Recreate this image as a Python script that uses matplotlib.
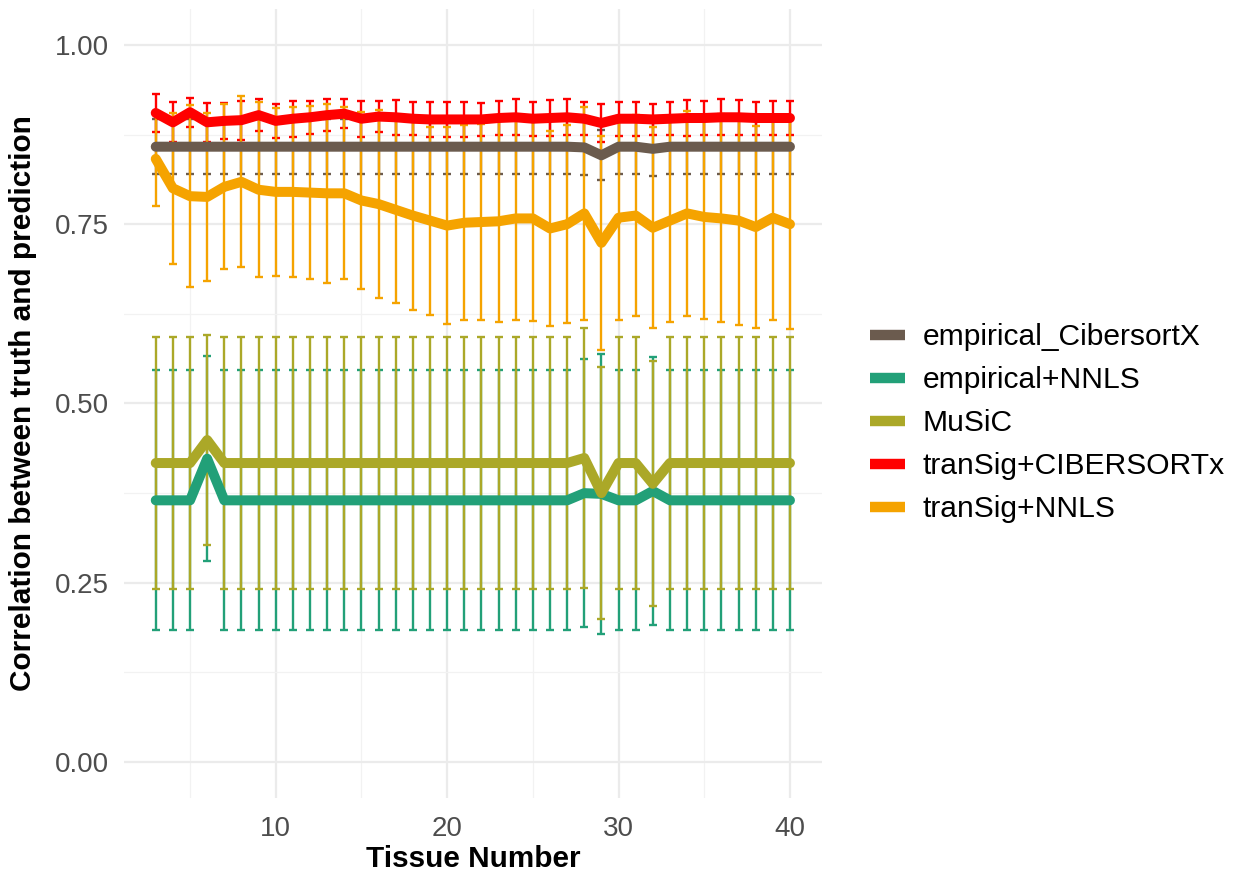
import numpy as np
import matplotlib
matplotlib.use("Agg")
import matplotlib.pyplot as plt
from matplotlib.lines import Line2D

plt.rcParams['font.family'] = ['Liberation Sans', 'DejaVu Sans']

# Tissue numbers on the x axis
tissue = list(range(3, 41))

methods = ["empirical_CibersortX", "empirical+NNLS", "MuSiC", "tranSig+CIBERSORTx", "tranSig+NNLS"]
colours = ["#6B5B4E", "#22A078", "#ABA828", "#FF0000", "#F5A300"]

# mean correlation per tissue number
emp_cbx_mean = [0.858, 0.858, 0.858, 0.858, 0.858, 0.858, 0.858, 0.858, 0.858, 0.858,
                0.858, 0.858, 0.858, 0.858, 0.858, 0.858, 0.858, 0.858, 0.858, 0.858,
                0.858, 0.858, 0.858, 0.858, 0.858, 0.857, 0.846, 0.858, 0.858, 0.855,
                0.858, 0.858, 0.858, 0.858, 0.858, 0.858, 0.858, 0.858]
emp_nnls_mean = [0.365, 0.365, 0.365, 0.423, 0.365, 0.365, 0.365, 0.365, 0.365, 0.365,
                 0.365, 0.365, 0.365, 0.365, 0.365, 0.365, 0.365, 0.365, 0.365, 0.365,
                 0.365, 0.365, 0.365, 0.365, 0.365, 0.375, 0.374, 0.365, 0.365, 0.378,
                 0.365, 0.365, 0.365, 0.365, 0.365, 0.365, 0.365, 0.365]
music_mean = [0.417, 0.417, 0.417, 0.449, 0.417, 0.417, 0.417, 0.417, 0.417, 0.417,
              0.417, 0.417, 0.417, 0.417, 0.417, 0.417, 0.417, 0.417, 0.417, 0.417,
              0.417, 0.417, 0.417, 0.417, 0.417, 0.424, 0.375, 0.417, 0.417, 0.388,
              0.417, 0.417, 0.417, 0.417, 0.417, 0.417, 0.417, 0.417]
ts_cbx_mean = [0.905, 0.892, 0.906, 0.892, 0.894, 0.895, 0.902, 0.894, 0.897, 0.899,
               0.902, 0.904, 0.897, 0.900, 0.899, 0.897, 0.896, 0.896, 0.896, 0.896,
               0.898, 0.899, 0.897, 0.898, 0.899, 0.897, 0.891, 0.897, 0.897, 0.896,
               0.897, 0.898, 0.898, 0.899, 0.899, 0.898, 0.898, 0.898]
ts_nnls_mean = [0.841, 0.800, 0.789, 0.788, 0.802, 0.809, 0.798, 0.795, 0.795, 0.794,
                0.793, 0.793, 0.783, 0.778, 0.770, 0.762, 0.755, 0.748, 0.752, 0.753,
                0.754, 0.758, 0.758, 0.744, 0.750, 0.765, 0.724, 0.759, 0.762, 0.745,
                0.755, 0.765, 0.760, 0.758, 0.755, 0.746, 0.759, 0.750]

# standard deviations (error bar half heights)
emp_cbx_sd = [0.038, 0.038, 0.038, 0.038, 0.038, 0.038, 0.038, 0.038, 0.038, 0.038,
              0.038, 0.038, 0.038, 0.038, 0.038, 0.038, 0.038, 0.038, 0.038, 0.038,
              0.038, 0.038, 0.038, 0.038, 0.038, 0.039, 0.035, 0.038, 0.038, 0.038,
              0.038, 0.038, 0.038, 0.038, 0.038, 0.038, 0.038, 0.038]
emp_nnls_sd = [0.181, 0.181, 0.181, 0.143, 0.181, 0.181, 0.181, 0.181, 0.181, 0.181,
               0.181, 0.181, 0.181, 0.181, 0.181, 0.181, 0.181, 0.181, 0.181, 0.181,
               0.181, 0.181, 0.181, 0.181, 0.181, 0.187, 0.195, 0.181, 0.181, 0.187,
               0.181, 0.181, 0.181, 0.181, 0.181, 0.181, 0.181, 0.181]
music_sd = [0.175, 0.175, 0.175, 0.146, 0.175, 0.175, 0.175, 0.175, 0.175, 0.175,
            0.175, 0.175, 0.175, 0.175, 0.175, 0.175, 0.175, 0.175, 0.175, 0.175,
            0.175, 0.175, 0.175, 0.175, 0.175, 0.181, 0.176, 0.175, 0.175, 0.171,
            0.175, 0.175, 0.175, 0.175, 0.175, 0.175, 0.175, 0.175]
ts_cbx_sd = [0.026, 0.028, 0.020, 0.027, 0.025, 0.027, 0.022, 0.024, 0.025, 0.023,
             0.022, 0.020, 0.025, 0.022, 0.024, 0.023, 0.024, 0.024, 0.024, 0.023,
             0.024, 0.025, 0.024, 0.025, 0.025, 0.023, 0.027, 0.024, 0.024, 0.022,
             0.023, 0.025, 0.024, 0.025, 0.024, 0.023, 0.024, 0.024]
ts_nnls_sd = [0.066, 0.105, 0.127, 0.117, 0.115, 0.119, 0.122, 0.117, 0.118, 0.121,
              0.125, 0.120, 0.123, 0.131, 0.130, 0.132, 0.131, 0.137, 0.136, 0.136,
              0.141, 0.141, 0.143, 0.136, 0.138, 0.149, 0.149, 0.142, 0.140, 0.140,
              0.141, 0.143, 0.142, 0.145, 0.145, 0.141, 0.143, 0.146]

means = [emp_cbx_mean, emp_nnls_mean, music_mean, ts_cbx_mean, ts_nnls_mean]
sds = [emp_cbx_sd, emp_nnls_sd, music_sd, ts_cbx_sd, ts_nnls_sd]

fig = plt.figure(figsize=(12.38, 8.71), dpi=100)
ax = fig.add_axes([0.1002, 0.0838, 0.5635, 0.9059])

# error bars first, lines on top
for m, s, c in zip(means, sds, colours):
    ax.errorbar(tissue, m, yerr=s, fmt='none', ecolor=c, elinewidth=1.7,
                capsize=3.2, capthick=1.7, zorder=2)
for m, c, name in zip(means, colours, methods):
    ax.plot(tissue, m, color=c, lw=7.2, solid_capstyle='round',
            solid_joinstyle='round', zorder=3, label=name)

ax.set_xlim(1.15, 41.85)
ax.set_ylim(-0.05, 1.05)
ax.set_xticks([10, 20, 30, 40])
ax.set_xticks([5, 15, 25, 35], minor=True)
ax.set_yticks([0, 0.25, 0.5, 0.75, 1.0])
ax.set_yticks([0.125, 0.375, 0.625, 0.875], minor=True)
ax.set_yticklabels(["0.00", "0.25", "0.50", "0.75", "1.00"])
ax.grid(which='major', color='#EBEBEB', lw=1.6)
ax.grid(which='minor', color='#F2F2F2', lw=0.9)
ax.set_axisbelow(True)
for sp in ax.spines.values():
    sp.set_visible(False)
ax.tick_params(which='both', length=0, labelsize=20, labelcolor='#4D4D4D')
ax.tick_params(axis='x', pad=13)
ax.tick_params(axis='y', pad=11)

ax.set_xlabel("Tissue Number", fontsize=21.4, fontweight='bold', labelpad=2)
ax.set_ylabel("Correlation between truth and prediction", fontsize=21.4,
              fontweight='bold', labelpad=13)

handles = [Line2D([0], [0], color=c, lw=7.5, solid_capstyle='butt') for c in colours]
fig.legend(handles, methods, loc='center left', bbox_to_anchor=(0.7028, 0.514),
           frameon=False, fontsize=21.6, handlelength=1.17, handletextpad=0.57,
           labelspacing=0.5, borderpad=0, borderaxespad=0)

fig.savefig("out.png", dpi=100)
